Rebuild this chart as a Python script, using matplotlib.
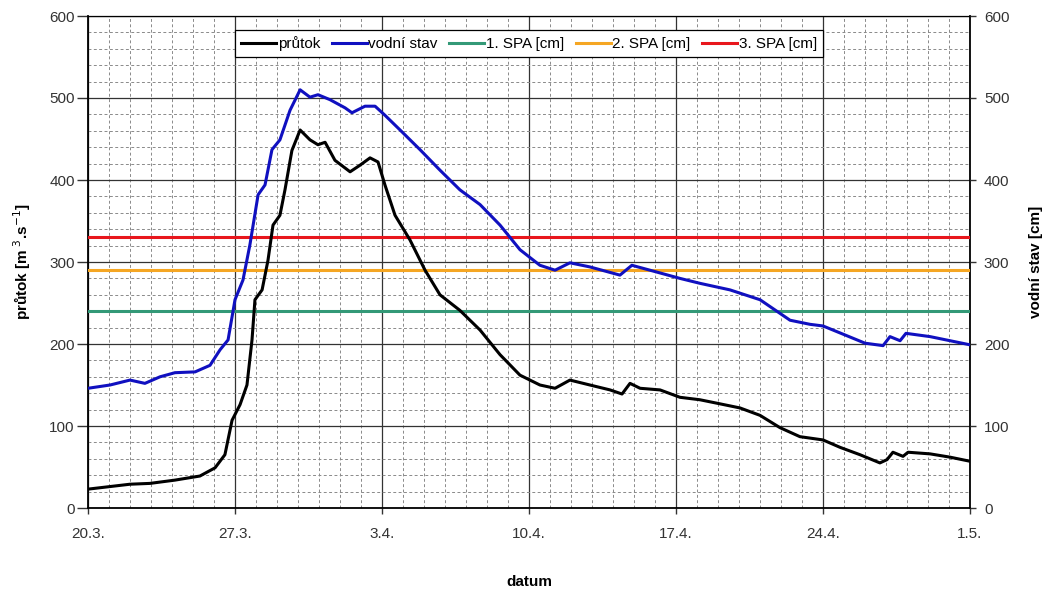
import numpy as np
import matplotlib.pyplot as plt
from matplotlib.ticker import MultipleLocator

plt.rcParams['font.family'] = ['Liberation Sans', 'DejaVu Sans']

# dny od 20.3.
den_prutok = [0, 2, 2.95, 4.14, 5.33, 6.05, 6.52, 6.86, 7.24, 7.57, 7.81, 7.95, 8.29, 8.57,
              8.81, 9.14, 9.38, 9.71, 10.1, 10.57, 10.95, 11.29, 11.76, 12.48, 12.95, 13.43,
              13.81, 14.14, 14.62, 15.33, 16.05, 16.76, 17.71, 18.67, 19.62, 20.57, 21.52,
              22.24, 22.95, 23.9, 24.86, 25.43, 25.81, 26.29, 27.24, 28.19, 29.14, 30.1,
              31.05, 32, 32.95, 33.9, 35, 35.81, 36.76, 37.71, 38.05, 38.33, 38.81, 39.05,
              40.1, 41.05, 42]
prutok = [23, 29, 30, 34, 39, 49, 65, 107, 126, 150, 205, 254, 266, 302, 345, 357, 388,
          436, 461, 449, 443, 446, 424, 410, 418, 427, 422, 394, 357, 327, 290, 260, 241,
          217, 187, 162, 150, 146, 156, 150, 144, 139, 152, 146, 144, 135, 132, 127, 122,
          113, 98, 87, 83, 74, 65, 55, 59, 68, 63, 68, 66, 62, 57]

den_stav = [0, 1.05, 2, 2.71, 3.43, 4.14, 5.1, 5.81, 6.29, 6.67, 7, 7.38, 7.71, 8.1,
            8.43, 8.76, 9.14, 9.62, 10.1, 10.57, 10.95, 11.52, 12.24, 12.57, 13.19,
            13.67, 14.14, 14.86, 15.81, 16.76, 17.71, 18.67, 19.62, 20.57, 21.52, 22.24,
            22.95, 23.9, 25.33, 25.9, 26.76, 28.19, 29.14, 30.57, 32, 33.43, 34.38, 35,
            36.05, 37, 37.86, 38.19, 38.67, 38.95, 40.1, 41.05, 42]
vodni_stav = [146, 150, 156, 152, 160, 165, 166, 174, 193, 205, 254, 278, 321, 382, 394,
              437, 449, 485, 510, 501, 504, 498, 488, 482, 490, 490, 479, 461, 437, 412,
              388, 370, 345, 315, 296, 290, 299, 294, 284, 296, 290, 280, 274, 266, 254,
              229, 224, 222, 211, 201, 198, 209, 204, 213, 209, 204, 199]

spa = [240, 290, 330]
spa_barvy = ['#339977', '#f5a623', '#e8161c']
spa_popisky = ['1. SPA [cm]', '2. SPA [cm]', '3. SPA [cm]']

datum_popisky = ['20.3.', '27.3.', '3.4.', '10.4.', '17.4.', '24.4.', '1.5.']

fig = plt.figure(figsize=(10.5, 5.89), dpi=100)
ax = fig.add_axes([88 / 1050, 81 / 589, 882 / 1050, 492 / 589])

ax.plot(den_prutok, prutok, color='black', lw=2.2, label='průtok', zorder=5)
ax.plot(den_stav, vodni_stav, color='#1010c0', lw=2.2, label='vodní stav', zorder=5)
for hodnota, barva, popis in zip(spa, spa_barvy, spa_popisky):
    ax.axhline(hodnota, color=barva, lw=2.2, label=popis, zorder=4)

ax.set_xlim(0, 42)
ax.set_ylim(0, 600)
ax.xaxis.set_minor_locator(MultipleLocator(1))
ax.yaxis.set_major_locator(MultipleLocator(100))
ax.yaxis.set_minor_locator(MultipleLocator(20))
ax.set_xticks(np.arange(0, 43, 7))
ax.set_xticklabels(datum_popisky)

ax.grid(which='major', color='#333333', lw=0.9, ls='-')
ax.grid(which='minor', color='#8a8a8a', lw=0.7, ls=(0, (3, 2.5)))
ax.set_axisbelow(True)

ax.tick_params(which='major', direction='out', width=1, labelsize=11, colors='#333333',
               labelcolor='#333333')
ax.tick_params(axis='y', length=8, pad=1.5)
ax.tick_params(axis='x', length=4, pad=10)
ax.tick_params(which='minor', length=0)
for s in ax.spines.values():
    s.set_linewidth(1.3)
    s.set_color('black')
ax.spines['top'].set_linewidth(0.9)

ax.set_ylabel('průtok [m$^{\\ 3}$.s$^{-1}$]', fontsize=11, fontweight='bold', labelpad=12)
ax.set_xlabel('datum', fontsize=11, fontweight='bold', labelpad=24)

ax2 = ax.twinx()
ax2.set_ylim(0, 600)
ax2.yaxis.set_major_locator(MultipleLocator(100))
ax2.tick_params(direction='out', length=4, width=1, labelsize=11, colors='#333333',
                labelcolor='#333333', pad=6)
ax2.set_ylabel('vodní stav [cm]', fontsize=11, fontweight='bold', labelpad=14)
for s in ax2.spines.values():
    s.set_visible(False)

leg = ax.legend(loc='upper center', bbox_to_anchor=(0.5, 0.972), ncol=5, fontsize=11,
                frameon=True, fancybox=False, edgecolor='black', framealpha=1,
                handlelength=2.3, handletextpad=0.1, columnspacing=0.75, borderpad=0.4,
                borderaxespad=0)
leg.get_frame().set_linewidth(0.9)

fig.savefig('out.png', dpi=100)
